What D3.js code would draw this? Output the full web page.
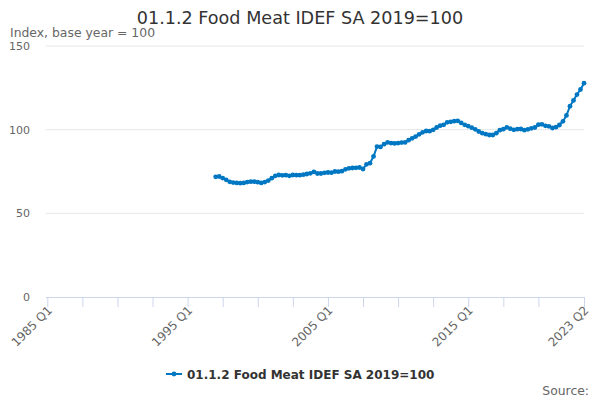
<!DOCTYPE html>
<html lang="en">
<head>
    <meta charset="UTF-8">
    <title>01.1.2 Food Meat IDEF SA 2019=100</title>
    <script src="https://d3js.org/d3.v7.min.js"></script>
    <style>
        body {
            margin: 0;
            background: #fff;
            font-family: "DejaVu Sans", sans-serif;
        }
        .axis text {
            fill: #666;
        }
    </style>
</head>
<body>
    <svg id="chart" width="600" height="400"></svg>
    <script>
        // axis runs 1985 Q1 .. 2023 Q2, the series starts in 1997 Q1
        const firstYear = 1985;
        const lastYear = 2023;
        const lastQuarter = 2;
        const seriesStart = "1997 Q1";
        const seriesName = "01.1.2 Food Meat IDEF SA 2019=100";

        const values = [
            71.8, 72.0, 71.1, 70.0,     // 1997
            68.8, 68.4, 68.2, 68.0,     // 1998
            68.2, 68.7, 68.9, 68.9,     // 1999
            68.6, 68.2, 68.7, 69.6,     // 2000
            71.0, 72.4, 72.9, 72.7,     // 2001
            72.8, 72.4, 72.9, 72.8,     // 2002
            72.8, 73.1, 73.5, 73.9,     // 2003
            74.8, 73.8, 73.8, 74.2,     // 2004
            74.4, 74.3, 75.0, 74.9,     // 2005
            75.2, 76.3, 76.9, 77.1,     // 2006
            77.2, 77.4, 76.5, 79.3,     // 2007
            80.0, 84.0, 89.9, 89.7,     // 2008
            91.3, 92.4, 92.0, 91.8,     // 2009
            92.0, 92.3, 92.4, 93.7,     // 2010
            94.8, 95.9, 97.2, 98.4,     // 2011
            99.2, 99.1, 99.9, 101.3,    // 2012
            102.4, 102.9, 104.4, 104.7, // 2013
            105.1, 105.3, 104.0, 102.9, // 2014
            102.1, 101.2, 100.2, 98.9,  // 2015
            97.9, 97.3, 96.8, 96.8,     // 2016
            97.9, 99.7, 100.3, 101.4,   // 2017
            100.6, 99.9, 100.3, 100.4,  // 2018
            99.7, 100.2, 100.8, 101.3,  // 2019
            103.0, 103.2, 102.3, 102.0, // 2020
            101.0, 101.5, 102.8, 105.0, // 2021
            108.5, 114.0, 117.5, 121.0, // 2022
            124.0, 127.8                // 2023
        ];

        const tickLabels = ["1985 Q1", "1995 Q1", "2005 Q1", "2015 Q1", "2023 Q2"];
        const yTicks = [0, 50, 100, 150];

        const quarters = [];
        for (let y = firstYear; y <= lastYear; y++) {
            for (let q = 1; q <= 4; q++) {
                if (y === lastYear && q > lastQuarter) break;
                quarters.push(y + " Q" + q);
            }
        }
        const startIdx = quarters.indexOf(seriesStart);
        const data = values.map((v, i) => ({ q: quarters[startIdx + i], v: v }));

        // tick marks every 10 quarters plus the last one
        const tickCats = quarters.filter((d, i) => i % 10 === 0 && i <= 140);
        tickCats.push(quarters[quarters.length - 1]);

        const color = "#0077c2";
        const svg = d3.select("#chart");

        const x = d3.scalePoint()
            .domain(quarters)
            .range([47.3, 584]);

        const y = d3.scaleLinear()
            .domain([0, 150])
            .range([297, 46]);

        // title + axis title
        svg.append("text")
            .attr("x", 300).attr("y", 24)
            .attr("text-anchor", "middle")
            .style("font-size", "17.6px")
            .style("fill", "#333")
            .text(seriesName);

        svg.append("text")
            .attr("x", 10).attr("y", 37)
            .style("font-size", "12.4px")
            .style("fill", "#666")
            .text("Index, base year = 100");

        // grid
        svg.append("g")
            .selectAll("line")
            .data(yTicks.filter(d => d > 0))
            .join("line")
            .attr("x1", 46).attr("x2", 584)
            .attr("y1", d => y(d)).attr("y2", d => y(d))
            .attr("stroke", "#e6e6e6");

        const yAxis = svg.append("g")
            .attr("class", "axis")
            .attr("transform", "translate(46,0)")
            .call(d3.axisLeft(y).tickValues(yTicks).tickSize(0).tickPadding(16));
        yAxis.select(".domain").remove();
        yAxis.selectAll("text")
            .style("font-size", "11px")
            .style("font-family", "DejaVu Sans");

        const xAxis = svg.append("g")
            .attr("class", "axis")
            .attr("transform", "translate(0,297)")
            .call(d3.axisBottom(x)
                .tickValues(tickCats)
                .tickSize(10)
                .tickSizeOuter(0)
                .tickFormat(d => tickLabels.includes(d) ? d : ""));
        xAxis.select(".domain").attr("stroke", "#ccd6eb").attr("d", "M46,0.5H584");
        xAxis.selectAll(".tick line").attr("stroke", "#ccd6eb");
        xAxis.selectAll("text")
            .style("font-size", "12px")
            .style("font-family", "DejaVu Sans")
            .attr("text-anchor", "end")
            .attr("dy", null)
            .attr("y", 0)
            .attr("transform", "translate(5,14) rotate(-45)");

        // series
        const line = d3.line()
            .x(d => x(d.q))
            .y(d => y(d.v));

        svg.append("path")
            .datum(data)
            .attr("fill", "none")
            .attr("stroke", color)
            .attr("stroke-width", 2)
            .attr("stroke-linejoin", "round")
            .attr("d", line);

        svg.append("g")
            .selectAll("circle")
            .data(data)
            .join("circle")
            .attr("cx", d => x(d.q))
            .attr("cy", d => y(d.v))
            .attr("r", 2.4)
            .attr("fill", color);

        // legend
        const legend = svg.append("g").attr("transform", "translate(166,374)");
        legend.append("line")
            .attr("x1", 0).attr("x2", 16)
            .attr("stroke", color).attr("stroke-width", 2);
        legend.append("circle")
            .attr("cx", 8).attr("r", 2.4).attr("fill", color);
        legend.append("text")
            .attr("x", 21).attr("y", 4.5)
            .style("font-size", "12px")
            .style("font-weight", "bold")
            .style("fill", "#333")
            .text(seriesName);

        svg.append("text")
            .attr("x", 589).attr("y", 395)
            .attr("text-anchor", "end")
            .style("font-size", "12.4px")
            .style("fill", "#666")
            .text("Source:");
    </script>
</body>
</html>
